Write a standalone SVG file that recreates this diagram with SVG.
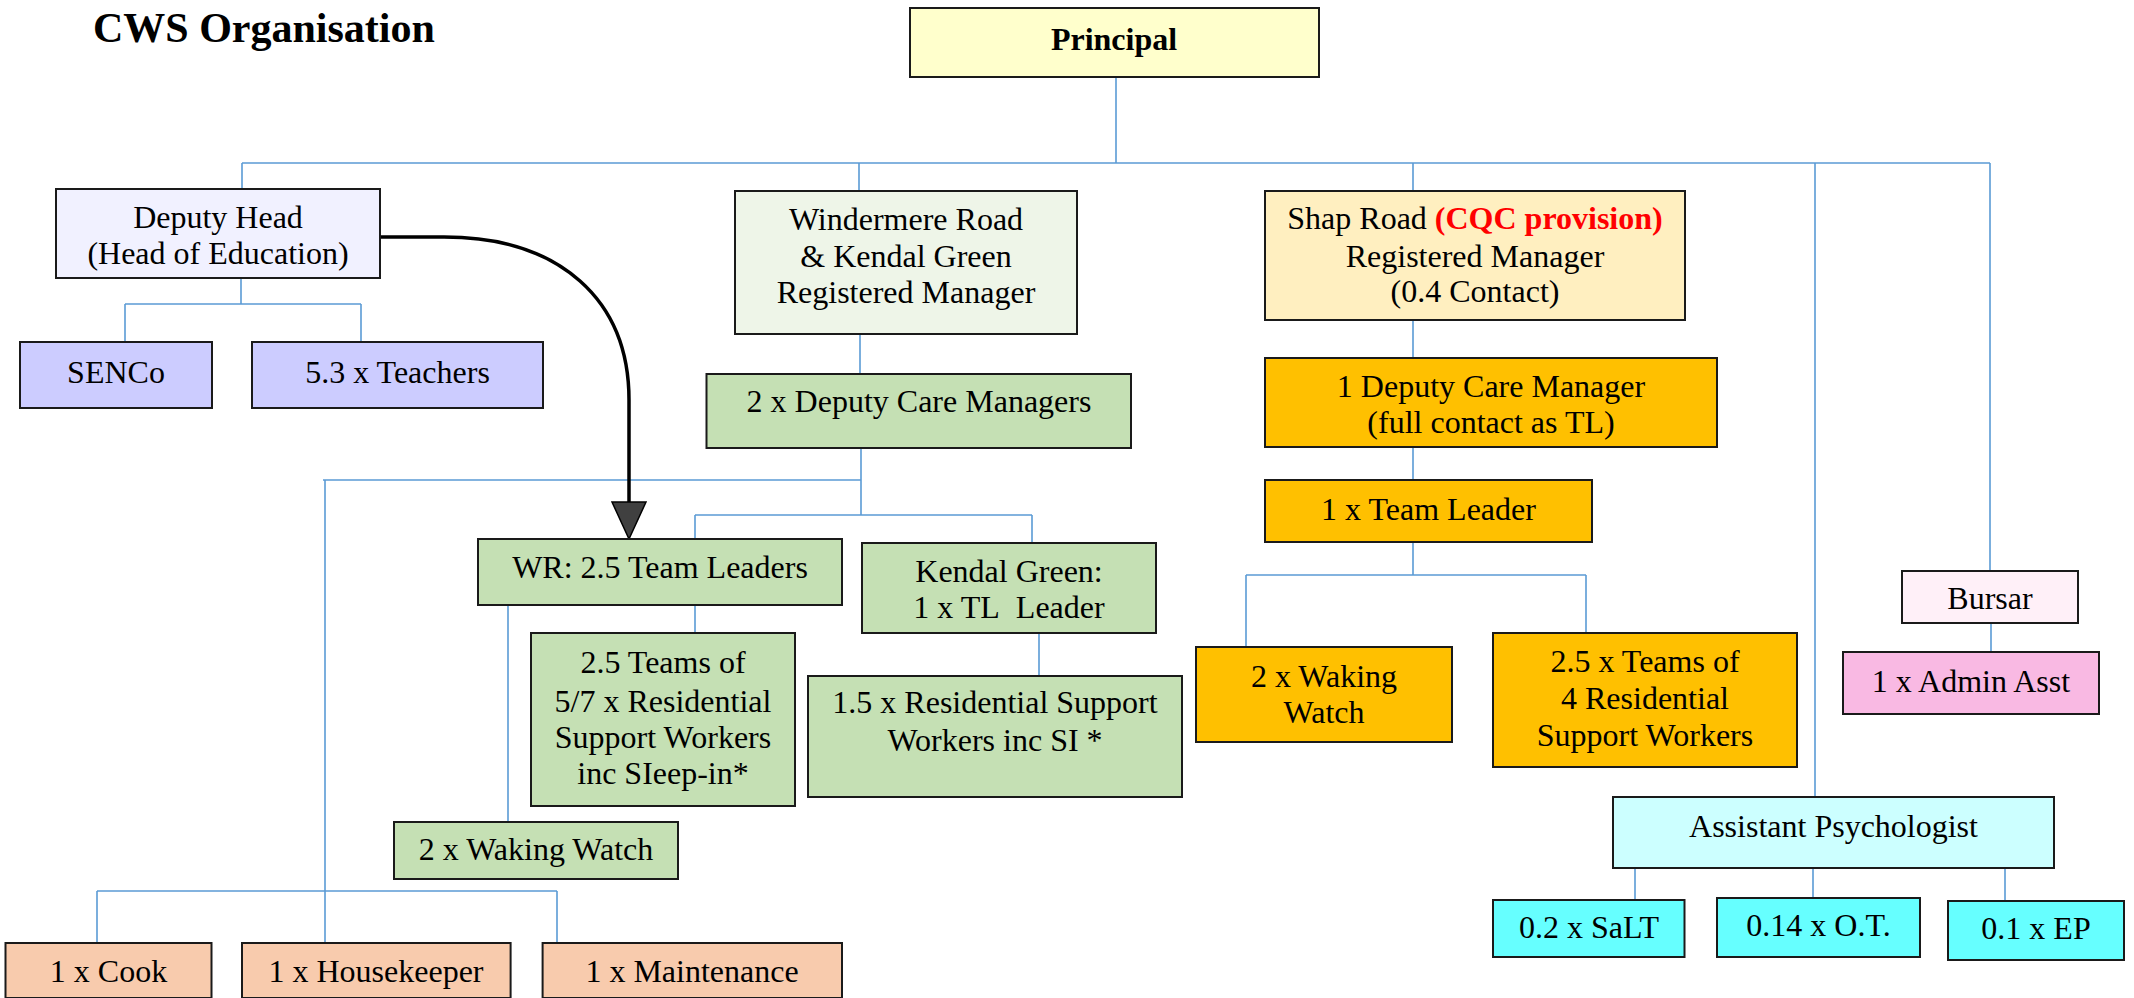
<svg xmlns="http://www.w3.org/2000/svg" width="2134" height="998" viewBox="0 0 2134 998">
<defs>
<style>
.b{stroke:#1a1a1a;stroke-width:2}
.t{font-family:"Liberation Serif","Times New Roman",serif;font-size:32px;fill:#000;text-anchor:middle}
.c{fill:none;stroke:#5B9BD5;stroke-width:1.6}
</style>
</defs>
<rect width="2134" height="998" fill="#fff"/>
<text x="93" y="42" style="font-family:'Liberation Serif','Times New Roman',serif;font-size:42px;font-weight:bold">CWS Organisation</text>

<g id="connectors">
<path class="c" d="M1116 77V163M242 163H1990M242 163V189M859 163V191M1413 163V191M1815 163V797M1990 163V571"/>
<path class="c" d="M241 278V304M125 304H361M125 304V342M361 304V342"/>
<path class="c" d="M860 334V374M861 448V515M323 480H861M695 515H1032M695 515V539M1032 515V543"/>
<path class="c" d="M325 480V943M97 891H557M97 891V943M557 891V943"/>
<path class="c" d="M695 605V633M508 605V822M1039 633V676"/>
<path class="c" d="M1413 320V358M1413 447V480M1413 542V575M1246 575H1586M1246 575V647M1586 575V633"/>
<path class="c" d="M1991 623V652M1635 868V900M1813 868V898M2005 868V901"/>
<path d="M380 237H444C560 237 629 300 629 400V505" fill="none" stroke="#000" stroke-width="3.5"/>
<polygon points="612,502 646,502 629,539" fill="#404040" stroke="#000" stroke-width="1.5"/>
</g>

<g id="principal"><rect class="b" x="910" y="8" width="409" height="69" fill="#FFFFCC"/><text class="t" x="1114" y="50" font-weight="bold">Principal</text></g>

<g id="deputy-head"><rect class="b" x="56" y="189" width="324" height="89" fill="#F1F1FF"/><text class="t" x="218" y="228">Deputy Head</text><text class="t" x="218" y="264">(Head of Education)</text></g>
<g id="senco"><rect class="b" x="20" y="342" width="192" height="66" fill="#CCCCFF"/><text class="t" x="116" y="383">SENCo</text></g>
<g id="teachers"><rect class="b" x="252" y="342" width="291" height="66" fill="#CCCCFF"/><text class="t" x="397.5" y="383">5.3 x Teachers</text></g>

<g id="windermere"><rect class="b" x="735" y="191" width="342" height="143" fill="#EEF5E8"/><text class="t" x="906" y="230">Windermere Road</text><text class="t" x="906" y="267">&amp; Kendal Green</text><text class="t" x="906" y="303">Registered Manager</text></g>
<g id="deputy-care-managers"><rect class="b" x="706.5" y="374" width="424.5" height="74" fill="#C5E0B4"/><text class="t" x="919" y="412">2 x Deputy Care Managers</text></g>
<g id="wr-team-leaders"><rect class="b" x="478" y="539" width="364" height="66" fill="#C5E0B4"/><text class="t" x="660" y="578">WR: 2.5 Team Leaders</text></g>
<g id="kendal-green"><rect class="b" x="862" y="543" width="294" height="90" fill="#C5E0B4"/><text class="t" x="1009" y="582">Kendal Green:</text><text class="t" x="1009" y="618">1 x TL&#160; Leader</text></g>
<g id="wr-teams"><rect class="b" x="531" y="633" width="264" height="173" fill="#C5E0B4"/><text class="t" x="663" y="673">2.5 Teams of</text><text class="t" x="663" y="712">5/7 x Residential</text><text class="t" x="663" y="748">Support Workers</text><text class="t" x="663" y="784">inc SIeep-in*</text></g>
<g id="kg-rsw"><rect class="b" x="808" y="676" width="374" height="121" fill="#C5E0B4"/><text class="t" x="995" y="713">1.5 x Residential Support</text><text class="t" x="995" y="751">Workers inc SI *</text></g>
<g id="wr-waking-watch"><rect class="b" x="394" y="822" width="284" height="57" fill="#C5E0B4"/><text class="t" x="536" y="860">2 x Waking Watch</text></g>

<g id="cook"><rect class="b" x="5.5" y="943" width="206" height="55" fill="#F8CBAD"/><text class="t" x="108.5" y="982">1 x Cook</text></g>
<g id="housekeeper"><rect class="b" x="242" y="943" width="268.6" height="55" fill="#F8CBAD"/><text class="t" x="376" y="982">1 x Housekeeper</text></g>
<g id="maintenance"><rect class="b" x="542.6" y="943" width="299.4" height="55" fill="#F8CBAD"/><text class="t" x="692" y="982">1 x Maintenance</text></g>

<g id="shap-road"><rect class="b" x="1265" y="191" width="420" height="129" fill="#FFEFC0"/><text class="t" x="1475" y="229">Shap Road <tspan fill="#FF0000" font-weight="bold">(CQC provision)</tspan></text><text class="t" x="1475" y="267">Registered Manager</text><text class="t" x="1475" y="302">(0.4 Contact)</text></g>
<g id="shap-deputy"><rect class="b" x="1265" y="358" width="452" height="89" fill="#FFC000"/><text class="t" x="1491" y="397">1 Deputy Care Manager</text><text class="t" x="1491" y="433">(full contact as TL)</text></g>
<g id="shap-team-leader"><rect class="b" x="1265" y="480" width="327" height="62" fill="#FFC000"/><text class="t" x="1428.5" y="520">1 x Team Leader</text></g>
<g id="shap-waking-watch"><rect class="b" x="1196" y="647" width="256" height="95" fill="#FFC000"/><text class="t" x="1324" y="687">2 x Waking</text><text class="t" x="1324" y="723">Watch</text></g>
<g id="shap-teams"><rect class="b" x="1493" y="633" width="304" height="134" fill="#FFC000"/><text class="t" x="1645" y="672">2.5 x Teams of</text><text class="t" x="1645" y="709">4 Residential</text><text class="t" x="1645" y="746">Support Workers</text></g>

<g id="bursar"><rect class="b" x="1902" y="571" width="176" height="52" fill="#FFF0F8"/><text class="t" x="1990" y="609">Bursar</text></g>
<g id="admin-asst"><rect class="b" x="1843" y="652" width="256" height="62" fill="#F9B9E3"/><text class="t" x="1971" y="692">1 x Admin Asst</text></g>
<g id="assistant-psychologist"><rect class="b" x="1613" y="797" width="441" height="71" fill="#CCFFFF"/><text class="t" x="1833.5" y="837">Assistant Psychologist</text></g>
<g id="salt"><rect class="b" x="1493" y="900" width="191.5" height="57" fill="#66FFFF"/><text class="t" x="1589" y="938">0.2 x SaLT</text></g>
<g id="ot"><rect class="b" x="1717" y="898" width="203" height="59" fill="#66FFFF"/><text class="t" x="1818.5" y="936">0.14 x O.T.</text></g>
<g id="ep"><rect class="b" x="1948" y="901" width="176" height="59" fill="#66FFFF"/><text class="t" x="2036" y="939">0.1 x EP</text></g>
</svg>
